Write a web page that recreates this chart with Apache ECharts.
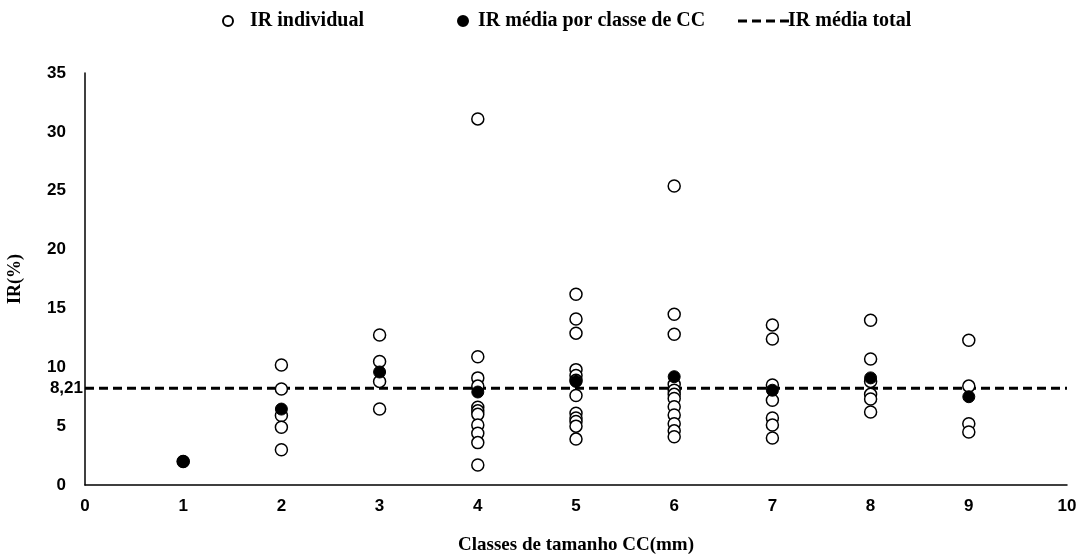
<!DOCTYPE html>
<html>
<head>
<meta charset="utf-8">
<script src="https://cdn.jsdelivr.net/npm/echarts@6/dist/echarts.min.js"></script>
<style>
  html, body { margin: 0; padding: 0; background: #fff; }
  #chart { width: 1083px; height: 559px; }
</style>
</head>
<body>
<div id="chart"></div>
<script>
// Size classes of CC (mm) and individual IR values (%) per class
const classes = [1, 2, 3, 4, 5, 6, 7, 8, 9];
const irIndividual = [
  [2.0],
  [10.2, 8.15, 5.9, 4.9, 3.0],
  [12.75, 10.5, 8.8, 6.45],
  [31.1, 10.9, 9.1, 8.4, 6.6, 6.3, 6.0, 5.1, 4.4, 3.6, 1.7],
  [16.2, 14.1, 12.9, 9.8, 9.3, 8.9, 7.6, 6.1, 5.7, 5.4, 5.0, 3.9],
  [25.4, 14.5, 12.8, 8.55, 8.05, 7.7, 7.35, 6.65, 5.95, 5.2, 4.6, 4.1],
  [13.6, 12.4, 8.5, 7.2, 5.7, 5.1, 4.0],
  [14.0, 10.7, 8.8, 7.7, 7.3, 6.2],
  [12.3, 8.4, 5.2, 4.5]
];
// Mean IR per class
const irMedia = [2.0, 6.45, 9.6, 7.9, 8.8, 9.2, 8.05, 9.1, 7.5];
// Overall mean IR
const irMediaTotal = 8.21;
const irMediaTotalLabel = '8,21';
const xRange = [0, 10];

const individualPoints = [];
classes.forEach((c, i) => irIndividual[i].forEach(v => individualPoints.push([c, v])));
const meanPoints = classes.map((c, i) => [c, irMedia[i]]);
const totalLine = [
  { value: [xRange[0], irMediaTotal], label: { show: true, position: 'left', distance: 2, formatter: irMediaTotalLabel } },
  [xRange[1], irMediaTotal]
];

const serif = '"Liberation Serif", "Times New Roman", serif';
const sans = '"Liberation Sans Narrow", "Liberation Sans", Arial, sans-serif';
// four short dashes for the legend entry of the overall mean
const dashIcon = 'path://M0,0h9v3h-9z M14,0h9v3h-9z M28,0h9v3h-9z M42,0h9v3h-9z';

const chart = echarts.init(document.getElementById('chart'), null, { renderer: 'canvas' });
const legendText = { fontFamily: serif, fontWeight: 'bold', fontSize: 20, color: '#000' };
chart.setOption({
  animation: false,
  backgroundColor: '#fff',
  grid: { left: 85, right: 16, top: 73, bottom: 74, containLabel: false, outerBoundsMode: 'none' },
  legend: [
    { data: ['IR individual'], left: 217, top: 6, itemWidth: 10, itemHeight: 10,
      textStyle: Object.assign({ padding: [0, 0, 0, 12] }, legendText) },
    { data: ['IR média por classe de CC'], left: 452, top: 6, itemWidth: 10, itemHeight: 10,
      textStyle: Object.assign({ padding: [0, 0, 0, 5] }, legendText) },
    { data: [{ name: 'IR média total', icon: dashIcon }], left: 733, top: 6, itemWidth: 51, itemHeight: 3,
      textStyle: Object.assign({ padding: [0, 0, 0, -6] }, legendText) }
  ],
  xAxis: {
    type: 'value', min: xRange[0], max: xRange[1], interval: 1,
    name: 'Classes de tamanho CC(mm)', nameLocation: 'middle', nameGap: 51,
    nameTextStyle: { fontFamily: serif, fontWeight: 'bold', fontSize: 19, color: '#000' },
    axisLine: { show: true, lineStyle: { color: '#000', width: 1.5 } },
    axisTick: { show: false },
    splitLine: { show: false },
    axisLabel: { fontFamily: sans, fontWeight: 'bold', fontSize: 17, color: '#000', margin: 13 }
  },
  yAxis: {
    type: 'value', min: 0, max: 35, interval: 5,
    name: 'IR(%)', nameLocation: 'middle', nameGap: 61, nameRotate: 90,
    nameTextStyle: { fontFamily: serif, fontWeight: 'bold', fontSize: 18, color: '#000' },
    axisLine: { show: true, lineStyle: { color: '#000', width: 1.5 } },
    axisTick: { show: false },
    splitLine: { show: false },
    axisLabel: { fontFamily: sans, fontWeight: 'bold', fontSize: 17, color: '#000', margin: 19 }
  },
  series: [
    {
      name: 'IR média total', type: 'line', data: totalLine,
      symbol: 'circle', symbolSize: 0.01, showSymbol: true, z: 1,
      lineStyle: { color: '#000', width: 3, type: [9, 5] },
      itemStyle: { color: '#000', opacity: 1 },
      label: { fontFamily: sans, fontWeight: 'bold', fontSize: 17, color: '#000' },
      silent: true
    },
    {
      name: 'IR individual', type: 'scatter', data: individualPoints, symbol: 'circle', symbolSize: 12, z: 2,
      itemStyle: { color: '#fff', borderColor: '#000', borderWidth: 1.5, opacity: 1 }
    },
    {
      name: 'IR média por classe de CC', type: 'scatter', data: meanPoints, symbol: 'circle', symbolSize: 12, z: 3,
      itemStyle: { color: '#000', borderColor: '#000', borderWidth: 1, opacity: 1 }
    }
  ]
});
</script>
</body>
</html>
